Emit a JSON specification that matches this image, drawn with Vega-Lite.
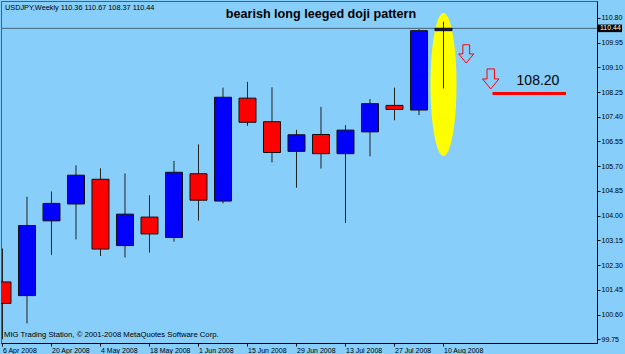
{
  "$schema": "https://vega.github.io/schema/vega-lite/v6.json",
  "width": 596,
  "height": 342,
  "autosize": {"type": "none"},
  "padding": {"left": 1, "top": 1, "right": 28, "bottom": 11},
  "background": "#87CEFA",
  "config": {
    "view": {"stroke": "#46627a", "strokeWidth": 1, "fill": "#87CEFA"},
    "axis": {"labelFont": "Liberation Sans", "labelColor": "#000000", "domainColor": "#000000", "tickColor": "#000000", "grid": false, "title": null, "labelOverlap": false, "labelBound": false, "labelFlush": false}
  },
  "datasets": {
    "candles": [
      {"date": "2008-04-06", "open": 101.72, "high": 102.87, "low": 99.75, "close": 100.98},
      {"date": "2008-04-13", "open": 101.25, "high": 104.65, "low": 100.29, "close": 103.66},
      {"date": "2008-04-20", "open": 103.82, "high": 104.83, "low": 102.65, "close": 104.42},
      {"date": "2008-04-27", "open": 104.40, "high": 105.73, "low": 103.18, "close": 105.39},
      {"date": "2008-05-04", "open": 105.25, "high": 105.63, "low": 102.61, "close": 102.85},
      {"date": "2008-05-11", "open": 102.97, "high": 105.45, "low": 102.56, "close": 104.05},
      {"date": "2008-05-18", "open": 103.95, "high": 104.70, "low": 102.73, "close": 103.37},
      {"date": "2008-05-25", "open": 103.25, "high": 105.88, "low": 103.10, "close": 105.49},
      {"date": "2008-06-01", "open": 105.44, "high": 106.45, "low": 103.83, "close": 104.53},
      {"date": "2008-06-08", "open": 104.50, "high": 108.40, "low": 104.42, "close": 108.07},
      {"date": "2008-06-15", "open": 108.04, "high": 108.60, "low": 107.09, "close": 107.21},
      {"date": "2008-06-22", "open": 107.23, "high": 108.41, "low": 105.83, "close": 106.17},
      {"date": "2008-06-29", "open": 106.21, "high": 106.95, "low": 104.96, "close": 106.78},
      {"date": "2008-07-06", "open": 106.79, "high": 107.74, "low": 105.62, "close": 106.13},
      {"date": "2008-07-13", "open": 106.13, "high": 107.11, "low": 103.75, "close": 106.94},
      {"date": "2008-07-20", "open": 106.88, "high": 108.01, "low": 106.04, "close": 107.85},
      {"date": "2008-07-27", "open": 107.79, "high": 108.40, "low": 107.28, "close": 107.65},
      {"date": "2008-08-03", "open": 107.63, "high": 110.41, "low": 107.46, "close": 110.36},
      {"date": "2008-08-10", "open": 110.36, "high": 110.67, "low": 108.37, "close": 110.44}
    ]
  },
  "encoding": {
    "x": {
      "field": "date",
      "type": "temporal",
      "scale": {
        "type": "utc",
        "padding": 0,
        "nice": false,
        "domain": [
          {"year": 2008, "month": 4, "date": 5, "hours": 13, "minutes": 43, "utc": true},
          {"year": 2008, "month": 9, "date": 22, "hours": 20, "minutes": 37, "utc": true}
        ]
      },
      "axis": {
        "orient": "bottom",
        "labelExpr": "utcFormat(datum.value, '%-d %b %Y')",
        "values": [
          {"year": 2008, "month": 4, "date": 6, "utc": true},
          {"year": 2008, "month": 4, "date": 20, "utc": true},
          {"year": 2008, "month": 5, "date": 4, "utc": true},
          {"year": 2008, "month": 5, "date": 18, "utc": true},
          {"year": 2008, "month": 6, "date": 1, "utc": true},
          {"year": 2008, "month": 6, "date": 15, "utc": true},
          {"year": 2008, "month": 6, "date": 29, "utc": true},
          {"year": 2008, "month": 7, "date": 13, "utc": true},
          {"year": 2008, "month": 7, "date": 27, "utc": true},
          {"year": 2008, "month": 8, "date": 10, "utc": true}
        ],
        "labelAlign": "left",
        "labelBaseline": "top",
        "labelFontSize": 7,
        "labelPadding": 0,
        "labelDx": 1,
        "tickSize": 3
      }
    },
    "y": {
      "type": "quantitative",
      "scale": {"domain": [99.62, 111.38], "nice": false, "zero": false, "padding": 0},
      "axis": {
        "orient": "right",
        "values": [99.75, 100.6, 101.45, 102.3, 103.15, 104.0, 104.85, 105.7, 106.55, 107.4, 108.25, 109.1, 109.95, 110.8],
        "format": ".2f",
        "labelFontSize": 7,
        "labelPadding": 1,
        "tickSize": 3
      }
    }
  },
  "layer": [
    {
      "data": {"values": [{"date": "2008-08-10", "price": 108.51}]},
      "mark": {"type": "point", "shape": "M0,-1 C0.1005,-1 0.182,-0.5523 0.182,0 C0.182,0.5523 0.1005,1 0,1 C-0.1005,1 -0.182,0.5523 -0.182,0 C-0.182,-0.5523 -0.1005,-1 0,-1 Z", "filled": true, "color": "#ffff00", "opacity": 1, "strokeWidth": 0, "size": 20449},
      "encoding": {"y": {"field": "price", "type": "quantitative"}}
    },
    {
      "data": {"values": [{"date": "2008-04-05T13:43:00Z", "date2": "2008-09-22T20:37:00Z", "price": 110.44}]},
      "mark": {"type": "rule", "color": "#46627a", "strokeWidth": 1},
      "encoding": {"x2": {"field": "date2"}, "y": {"field": "price", "type": "quantitative"}}
    },
    {
      "data": {"name": "candles"},
      "mark": {"type": "rule", "color": "#222222", "strokeWidth": 1, "clip": true},
      "encoding": {"y": {"field": "low", "type": "quantitative"}, "y2": {"field": "high"}}
    },
    {
      "data": {"name": "candles"},
      "mark": {"type": "bar", "width": 17, "stroke": "#111111", "strokeWidth": 1, "clip": true},
      "encoding": {
        "y": {"field": "open", "type": "quantitative"},
        "y2": {"field": "close"},
        "color": {"condition": {"test": "datum.close >= datum.open", "value": "#0000ff"}, "value": "#ff0000"}
      }
    },
    {
      "data": {"values": [{"date": "2008-08-24", "date2": "2008-09-14", "price": 108.2}]},
      "mark": {"type": "rule", "color": "#ff0000", "strokeWidth": 3},
      "encoding": {"x2": {"field": "date2"}, "y": {"field": "price", "type": "quantitative"}}
    },
    {
      "data": {"values": [{"date": "2008-08-16T12:00:00Z", "price": 109.56}]},
      "mark": {"type": "point", "shape": "M-0.37,-1 L0.37,-1 L0.37,0 L0.82,0 L0,1 L-0.82,0 L-0.37,0 Z", "filled": false, "color": "#ff0000", "opacity": 1, "strokeWidth": 1, "size": 335},
      "encoding": {"y": {"field": "price", "type": "quantitative"}}
    },
    {
      "data": {"values": [{"date": "2008-08-23T12:00:00Z", "price": 108.70}]},
      "mark": {"type": "point", "shape": "M-0.37,-1 L0.37,-1 L0.37,0 L0.82,0 L0,1 L-0.82,0 L-0.37,0 Z", "filled": false, "color": "#ff0000", "opacity": 1, "strokeWidth": 1, "size": 400},
      "encoding": {"y": {"field": "price", "type": "quantitative"}}
    },
    {
      "data": {"values": [{"date": "2008-07-06", "price": 110.79, "label": "bearish long leeged doji pattern"}]},
      "mark": {"type": "text", "align": "center", "baseline": "alphabetic", "font": "Liberation Sans", "fontSize": 12.6, "fontWeight": "bold", "color": "#000000"},
      "encoding": {"y": {"field": "price", "type": "quantitative"}, "text": {"field": "label"}}
    },
    {
      "data": {"values": [{"date": "2008-09-06", "price": 108.49, "label": "108.20"}]},
      "mark": {"type": "text", "align": "center", "baseline": "alphabetic", "font": "Liberation Sans", "fontSize": 14, "color": "#000000"},
      "encoding": {"y": {"field": "price", "type": "quantitative"}, "text": {"field": "label"}}
    },
    {
      "data": {"values": [{"date": "2008-04-05T13:43:00Z", "price": 111.06, "label": "USDJPY,Weekly  110.36 110.67 108.37 110.44"}]},
      "mark": {"type": "text", "align": "left", "baseline": "alphabetic", "dx": 4, "font": "Liberation Sans", "fontSize": 7.3, "color": "#000000"},
      "encoding": {"y": {"field": "price", "type": "quantitative"}, "text": {"field": "label"}}
    },
    {
      "data": {"values": [{"date": "2008-04-05T13:43:00Z", "price": 99.81, "label": "MIG Trading Station, © 2001-2008 MetaQuotes Software Corp."}]},
      "mark": {"type": "text", "align": "left", "baseline": "alphabetic", "dx": 3, "font": "Liberation Sans", "fontSize": 7.7, "color": "#000000"},
      "encoding": {"y": {"field": "price", "type": "quantitative"}, "text": {"field": "label"}}
    },
    {
      "data": {"values": [{"date": "2008-09-22T20:37:00Z", "price": 110.44}]},
      "mark": {"type": "rect", "color": "#000000", "xOffset": 1, "x2Offset": 25, "yOffset": -3.8, "y2Offset": 3.8, "clip": false},
      "encoding": {"x2": {"field": "date"}, "y": {"field": "price", "type": "quantitative"}, "y2": {"field": "price"}}
    },
    {
      "data": {"values": [{"date": "2008-09-22T20:37:00Z", "price": 110.44, "label": "110.44"}]},
      "mark": {"type": "text", "align": "left", "baseline": "middle", "dx": 3, "font": "Liberation Sans", "fontSize": 7, "color": "#ffffff"},
      "encoding": {"y": {"field": "price", "type": "quantitative"}, "text": {"field": "label"}}
    }
  ]
}
